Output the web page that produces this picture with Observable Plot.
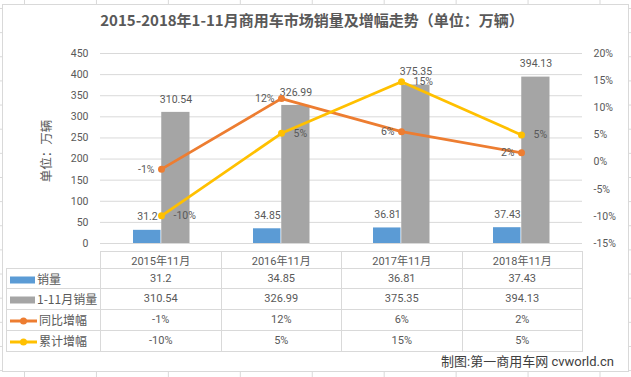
<!DOCTYPE html>
<html><head><meta charset="utf-8">
<script src="https://cdn.jsdelivr.net/npm/d3@7"></script>
<script src="https://cdn.jsdelivr.net/npm/@observablehq/plot@0.6"></script>
<style>
body{margin:0;}
#page{position:relative;width:631px;height:377px;overflow:hidden;background-color:#fff;
background-image:linear-gradient(to right,#d9d9d9 1px,transparent 1px),linear-gradient(to bottom,#d9d9d9 1px,transparent 1px);
background-size:71.95px 24.15px;background-position:24px 8px;
font-family:Roboto,"Noto Sans CJK SC",sans-serif;color:#595959;}
#box{position:absolute;left:2px;top:4px;width:627px;height:368px;box-sizing:border-box;border:1px solid #d9d9d9;background:#fff;}
#title{position:absolute;left:0;top:9px;width:624px;text-align:center;font-weight:bold;font-size:15px;font-family:"Noto Sans CJK SC",sans-serif;line-height:22px;color:#595959;}
#ylabel{position:absolute;left:46px;top:151px;transform:translate(-50%,-50%) rotate(-90deg);font-size:12.5px;line-height:14px;white-space:nowrap;font-family:"Noto Sans CJK SC",sans-serif;}
#chart svg{position:absolute;left:0;top:0;}
table{position:absolute;left:6px;top:251px;border-collapse:collapse;table-layout:fixed;font-size:11px;color:#595959;}
td{border:1px solid #d9d9d9;padding:0;text-align:center;white-space:nowrap;overflow:hidden;}
td.lab{text-align:left;font-size:12px;font-family:"Noto Sans CJK SC",sans-serif;padding-left:2px;}
td.lab svg{vertical-align:middle;margin-right:2px;position:relative;top:-1px;}
td.corner{border-top:none;border-left:none;}
td.hdr{font-family:Roboto,"Noto Sans CJK SC",sans-serif;}
#caption{position:absolute;right:17px;top:354px;font-size:13px;line-height:16px;color:#404040;font-family:Roboto,"Noto Sans CJK SC",sans-serif;}
</style>
</head><body>
<div id="page">
  <div id="box"></div>
  <div id="title">2015-2018年1-11月商用车市场销量及增幅走势（单位：万辆）</div>
  <div id="ylabel">单位：万辆</div>
  <div id="chart"></div>
  <table id="tbl"></table>
  <div id="caption">制图:第一商用车网 cvworld.cn</div>
</div>
<script>
const categories = ["2015年11月", "2016年11月", "2017年11月", "2018年11月"];
const seriesNames = ["销量", "1-11月销量", "同比增幅", "累计增幅"];
const monthSales = [31.2, 34.85, 36.81, 37.43];
const ytdSales = [310.54, 326.99, 375.35, 394.13];
const yoyGrowth = [-1.3, 11.7, 5.6, 1.7];
const ytdGrowth = [-9.9, 5.3, 14.8, 5.0];
const leftTicks = [0, 50, 100, 150, 200, 250, 300, 350, 400, 450];
const rightTicks = [-15, -10, -5, 0, 5, 10, 15, 20];
const colors = ["#5B9BD5", "#A5A5A5", "#ED7D31", "#FFC000"];

const leftMax = 450, pctMin = -15, pctMax = 20;
const toLeft = p => (p - pctMin) * leftMax / (pctMax - pctMin);
const fromLeft = v => v * (pctMax - pctMin) / leftMax + pctMin;
const pct = v => Math.round(v) + "%";

const rows = categories.map((c, i) => ({cat: c, month: monthSales[i], ytd: ytdSales[i], yoy: yoyGrowth[i], cum: ytdGrowth[i]}));

const chart = Plot.plot({
  width: 631, height: 250,
  marginTop: 53, marginBottom: 7, marginLeft: 100, marginRight: 49,
  style: {background: "transparent", fontFamily: "Roboto, 'Noto Sans CJK SC', sans-serif", fontSize: "10.5px", color: "#595959", overflow: "visible"},
  x: {type: "band", domain: categories, padding: 0, axis: null},
  y: {domain: [0, leftMax], axis: null},
  marks: [
    Plot.gridY({ticks: leftTicks, stroke: "#d9d9d9", strokeOpacity: 1}),
    Plot.axisY({ticks: leftTicks, anchor: "left", tickSize: 0, tickPadding: 12, label: null}),
    Plot.axisY({ticks: rightTicks.map(toLeft), anchor: "right", tickSize: 0, tickPadding: 11, label: null,
      tickFormat: d => Math.round(fromLeft(d)) + "%"}),
    Plot.barY(rows, {x: "cat", y: "month", fill: colors[0], insetLeft: 32, insetRight: 60.5}),
    Plot.barY(rows, {x: "cat", y: "ytd", fill: colors[1], insetLeft: 60.25, insetRight: 31.5}),
    Plot.text(rows, {x: "cat", y: "month", text: d => String(d.month), dx: -14, dy: -13.5}),
    Plot.text(rows, {x: "cat", y: "ytd", text: d => String(d.ytd), dx: 14.5, dy: -13}),
    Plot.lineY(rows, {x: "cat", y: d => toLeft(d.yoy), stroke: colors[2], strokeWidth: 2.75}),
    Plot.dot(rows, {x: "cat", y: d => toLeft(d.yoy), fill: colors[2], r: 3.5}),
    Plot.lineY(rows, {x: "cat", y: d => toLeft(d.cum), stroke: colors[3], strokeWidth: 2.75}),
    Plot.dot(rows, {x: "cat", y: d => toLeft(d.cum), fill: colors[3], r: 3.5}),
    Plot.text(rows, {x: "cat", y: d => toLeft(d.yoy), text: d => pct(d.yoy), textAnchor: "end", dx: -7}),
    Plot.text(rows, {x: "cat", y: d => toLeft(d.cum), text: d => pct(d.cum), textAnchor: "start", dx: 12})
  ]
});
document.getElementById("chart").appendChild(chart);

// data table
const swatch = i => i < 2
  ? `<svg width="26" height="8"><rect x="1" y="0.5" width="25" height="7" fill="${colors[i]}"/></svg>`
  : `<svg width="28" height="8"><line x1="1" y1="4" x2="28" y2="4" stroke="${colors[i]}" stroke-width="3"/><circle cx="14.5" cy="4" r="3.5" fill="${colors[i]}"/></svg>`;
const values = [monthSales.map(String), ytdSales.map(String), yoyGrowth.map(pct), ytdGrowth.map(pct)];
const rowH = [20, 20.5, 21, 21];
let html = `<colgroup><col style="width:94px">${categories.map(() => '<col style="width:120.5px">').join("")}</colgroup>`;
html += `<tr style="height:16.5px"><td class="corner"></td>${categories.map(c => `<td class="hdr">${c}</td>`).join("")}</tr>`;
seriesNames.forEach((n, i) => {
  html += `<tr style="height:${rowH[i]}px"><td class="lab">${swatch(i)}${n}</td>${values[i].map(v => `<td>${v}</td>`).join("")}</tr>`;
});
document.getElementById("tbl").innerHTML = html;
</script>
</body></html>
